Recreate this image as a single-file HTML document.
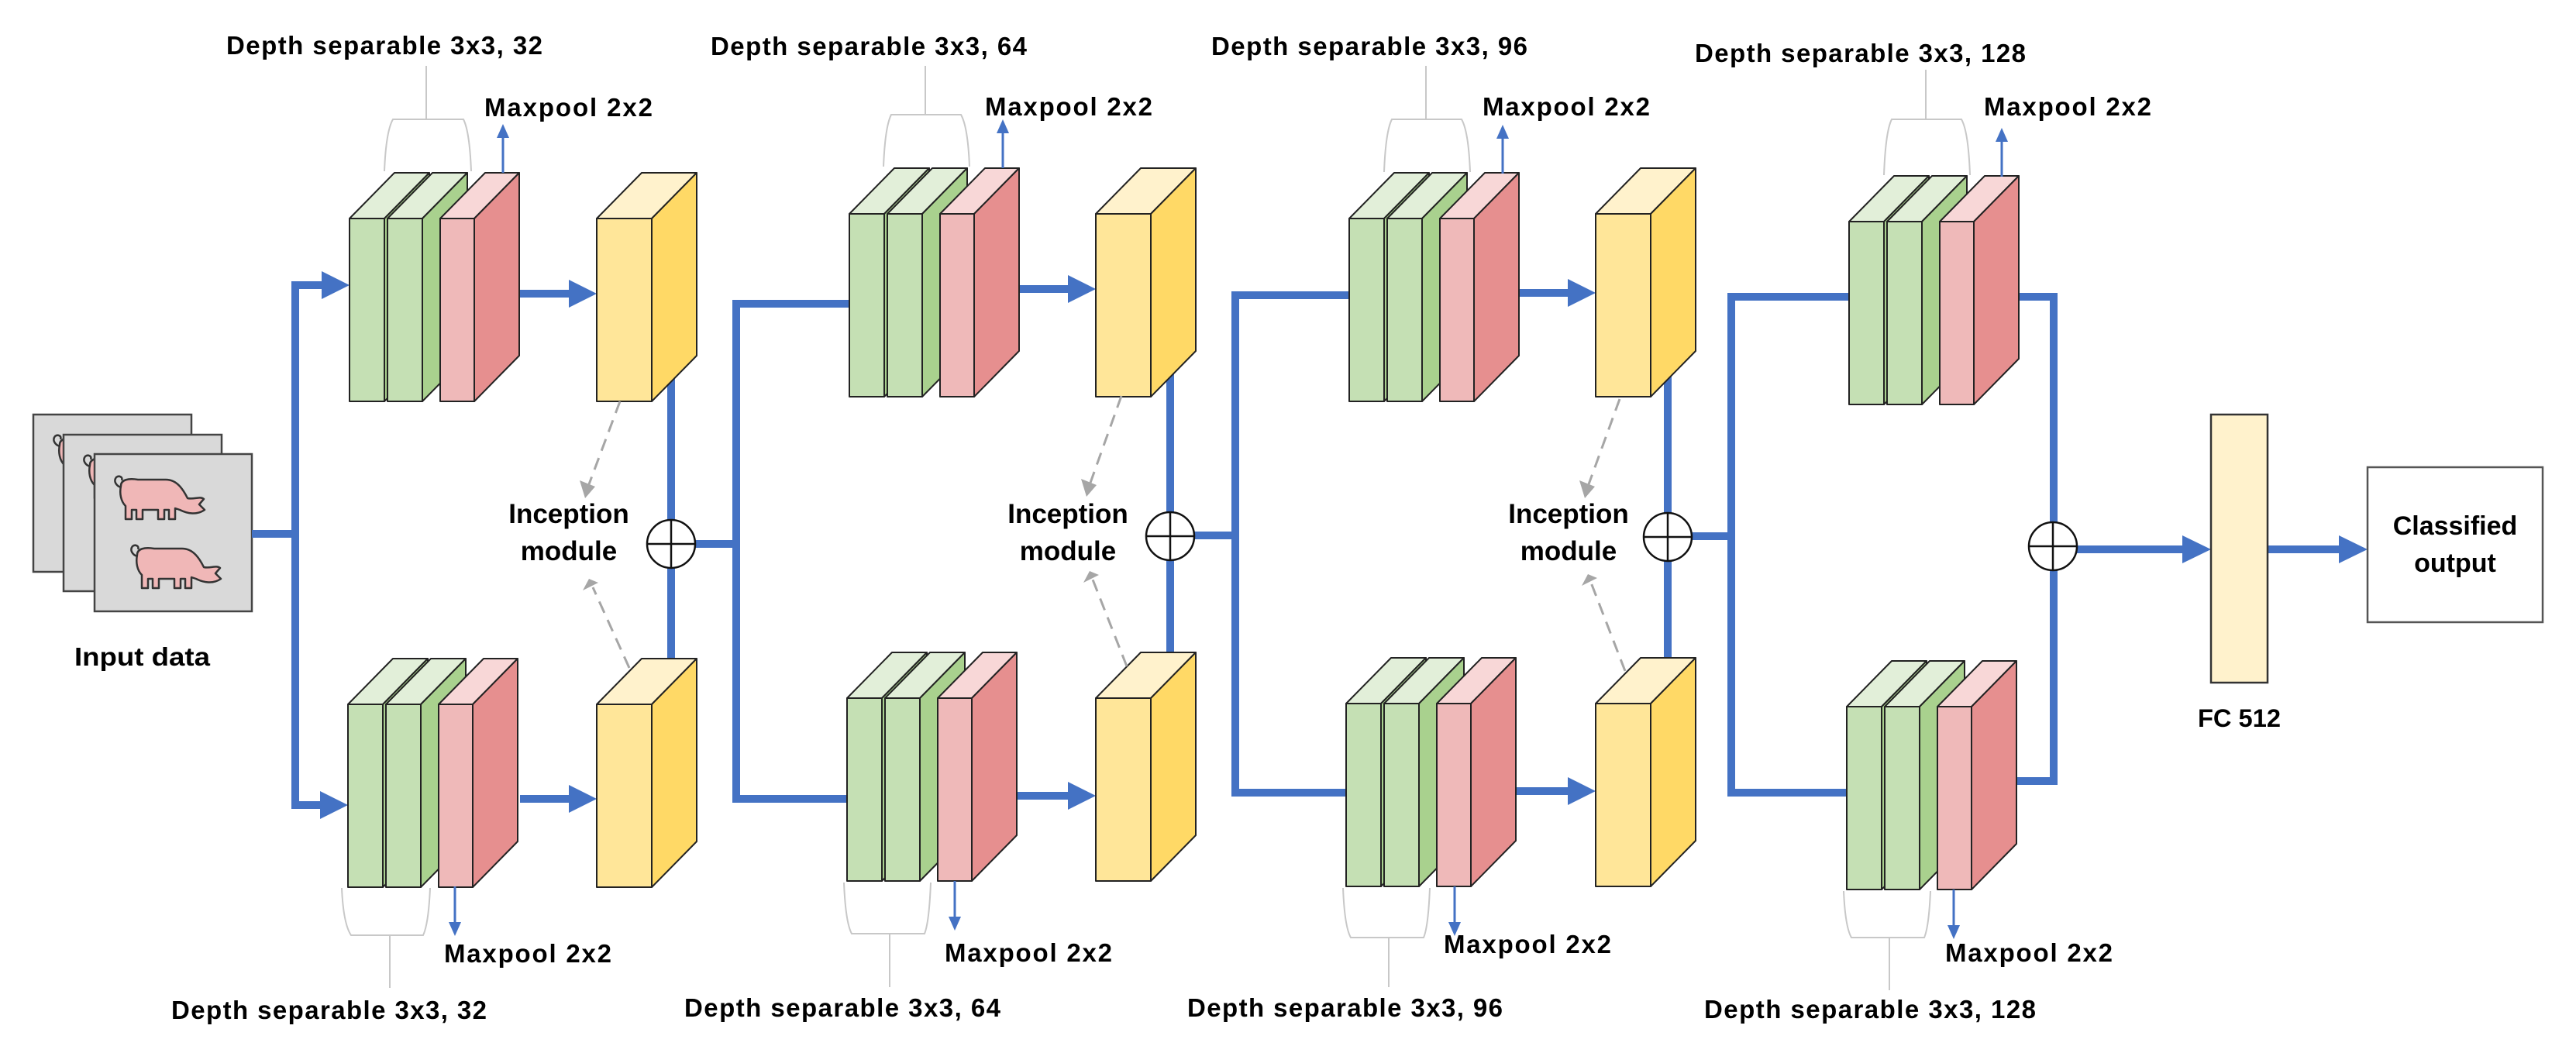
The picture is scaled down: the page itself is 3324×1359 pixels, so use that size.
<!DOCTYPE html>
<html><head><meta charset="utf-8"><style>
html,body{margin:0;padding:0;background:#fff}
svg{display:block}
text{font-family:"Liberation Sans",sans-serif;font-weight:bold;fill:#000}
</style></head><body>
<svg width="3324" height="1359" viewBox="0 0 3324 1359" xmlns="http://www.w3.org/2000/svg">
<defs>
<g id="stack" stroke="#222" stroke-width="2" stroke-linejoin="round">
  <polygon points="0,0 58,-59 103,-59 45,0" fill="#e2efd9"/>
  <polygon points="45,0 103,-59 103,177 45,236" fill="#a9d18e"/>
  <rect x="0" y="0" width="45" height="236" fill="#c5e0b4"/>
  <polygon points="49,0 107,-59 152,-59 94,0" fill="#e2efd9"/>
  <polygon points="94,0 152,-59 152,177 94,236" fill="#a9d18e"/>
  <rect x="49" y="0" width="45" height="236" fill="#c5e0b4"/>
  <polygon points="117,0 175,-59 219,-59 161,0" fill="#f8d7d7"/>
  <polygon points="161,0 219,-59 219,177 161,236" fill="#e68f8f"/>
  <rect x="117" y="0" width="44" height="236" fill="#efb9b9"/>
</g>
<g id="yel" stroke="#222" stroke-width="2" stroke-linejoin="round">
  <polygon points="0,0 58,-59 129,-59 71,0" fill="#fff2cc"/>
  <polygon points="71,0 129,-59 129,177 71,236" fill="#ffd966"/>
  <rect x="0" y="0" width="71" height="236" fill="#ffe699"/>
</g>
<g id="plus">
  <circle cx="0" cy="0" r="31" fill="#fff" stroke="#111" stroke-width="2.5"/>
  <line x1="-31" y1="0" x2="31" y2="0" stroke="#111" stroke-width="2.5"/>
  <line x1="0" y1="-31" x2="0" y2="31" stroke="#111" stroke-width="2.5"/>
</g>
<g id="pig">
  <path d="M14,16 C8,14 4,8 8,3 C12,0 17,3 15,7" fill="none" stroke="#333" stroke-width="2.5"/>
  <path d="M14,14 C14,6 24,4 36,6 L72,6 C86,6 94,18 100,30 C108,32 116,27 121,31 L115,38 L122,45 C112,52 100,50 90,45 L84,43 L84,57 L76,57 L76,45 L70,45 L70,57 L62,57 L62,45 L42,45 L42,57 L34,57 L34,45 L28,45 L28,57 L20,57 L20,40 C14,34 12,24 14,14 Z" fill="#f0b7b7" stroke="#333" stroke-width="2.5" stroke-linejoin="round"/>
</g>
</defs>

<rect x="43" y="535" width="204" height="203" fill="#d9d9d9" stroke="#444" stroke-width="2.5"/>
<use href="#pig" x="63" y="560"/>
<rect x="82" y="561" width="204" height="202" fill="#d9d9d9" stroke="#444" stroke-width="2.5"/>
<use href="#pig" x="102" y="586"/>
<rect x="122" y="586" width="203" height="203" fill="#d9d9d9" stroke="#444" stroke-width="2.5"/>
<use href="#pig" x="142" y="613"/>
<use href="#pig" x="163" y="702"/>
<text x="96" y="859" font-size="33" textLength="175" lengthAdjust="spacingAndGlyphs">Input data</text>

<g stroke="#4472c4" stroke-width="10" fill="none" stroke-linejoin="miter">
  <path d="M325,689 H381"/>
  <path d="M421,368 H381 V1039 H421"/>
  <path d="M671,379 H740"/><path d="M671,1031 H740"/>
  <path d="M866,470 V880"/>
  <path d="M897,702 H950"/>
  <path d="M1096,392 H950 V1031 H1093"/>
  <path d="M1315,373 H1384"/><path d="M1312,1027 H1384"/>
  <path d="M1510,465 V872"/>
  <path d="M1541,691 H1594"/>
  <path d="M1741,381 H1594 V1023 H1737"/>
  <path d="M1960,378 H2029"/><path d="M1956,1021 H2029"/>
  <path d="M2152,465 V879"/>
  <path d="M2183,692 H2234"/>
  <path d="M2386,383 H2234 V1023 H2383"/>
  <path d="M2604,383 H2650 V1008 H2602"/>
  <path d="M2680,709 H2822"/>
  <path d="M2926,709 H3020"/>
</g>
<g fill="#4472c4">
  <polygon points="415,350 451,368 415,386"/>
  <polygon points="413,1021 449,1039 413,1057"/>
  <polygon points="734,361 770,379 734,397"/>
  <polygon points="734,1013 770,1031 734,1049"/>
  <polygon points="1378,355 1414,373 1378,391"/>
  <polygon points="1378,1009 1414,1027 1378,1045"/>
  <polygon points="2023,360 2059,378 2023,396"/>
  <polygon points="2023,1003 2059,1021 2023,1039"/>
  <polygon points="2816,691 2853,709 2816,727"/>
  <polygon points="3018,691 3055,709 3018,727"/>
</g>

<use href="#stack" x="451" y="282"/><use href="#yel" x="770" y="282"/>
<use href="#stack" x="449" y="909"/><use href="#yel" x="770" y="909"/>
<use href="#stack" x="1096" y="276"/><use href="#yel" x="1414" y="276"/>
<use href="#stack" x="1093" y="901"/><use href="#yel" x="1414" y="901"/>
<use href="#stack" x="1741" y="282"/><use href="#yel" x="2059" y="276"/>
<use href="#stack" x="1737" y="908"/><use href="#yel" x="2059" y="908"/>
<use href="#stack" x="2386" y="286"/>
<use href="#stack" x="2383" y="912"/>

<use href="#plus" x="866" y="702"/>
<use href="#plus" x="1510" y="692"/>
<use href="#plus" x="2152" y="693"/>
<use href="#plus" x="2649" y="705"/>

<rect x="2853" y="535" width="73" height="346" fill="#fff2cc" stroke="#333" stroke-width="2.5"/>
<text x="2836" y="938" font-size="32" textLength="107" lengthAdjust="spacingAndGlyphs">FC 512</text>
<rect x="3055" y="603" width="226" height="200" fill="#fff" stroke="#555" stroke-width="2.5"/>
<text x="3168" y="690" font-size="34" text-anchor="middle">Classified</text>
<text x="3168" y="738" font-size="34" text-anchor="middle">output</text>

<g stroke="#4472c4" stroke-width="3">
  <line x1="649" y1="223" x2="649" y2="172"/><line x1="587" y1="1144" x2="587" y2="1194"/>
  <line x1="1294" y1="217" x2="1294" y2="166"/><line x1="1232" y1="1137" x2="1232" y2="1187"/>
  <line x1="1939" y1="224" x2="1939" y2="173"/><line x1="1877" y1="1144" x2="1877" y2="1194"/>
  <line x1="2583" y1="228" x2="2583" y2="177"/><line x1="2521" y1="1148" x2="2521" y2="1198"/>
</g>
<g fill="#4472c4">
  <polygon points="641,178 649,160 657,178"/><polygon points="579,1190 587,1208 595,1190"/>
  <polygon points="1286,172 1294,154 1302,172"/><polygon points="1224,1183 1232,1201 1240,1183"/>
  <polygon points="1931,179 1939,161 1947,179"/><polygon points="1869,1190 1877,1208 1885,1190"/>
  <polygon points="2575,183 2583,165 2591,183"/><polygon points="2513,1194 2521,1212 2529,1194"/>
</g>

<g stroke="#c8c8c8" stroke-width="2" fill="none">
  <path d="M496,221 Q498,170 507,154 H598 Q606,170 608,221 M550,154 V85"/>
  <path d="M1140,215 Q1142,164 1150,148 H1240 Q1249,164 1251,215 M1194,148 V85"/>
  <path d="M1786,222 Q1788,170 1796,154 H1886 Q1895,170 1897,222 M1840,154 V85"/>
  <path d="M2431,226 Q2433,170 2441,154 H2531 Q2540,170 2542,226 M2485,154 V90"/>
  <path d="M441,1146 Q443,1192 453,1207 H546 Q553,1192 555,1146 M503,1207 V1275"/>
  <path d="M1089,1139 Q1091,1190 1099,1205 H1193 Q1199,1190 1201,1139 M1148,1205 V1274"/>
  <path d="M1733,1146 Q1735,1196 1743,1210 H1837 Q1843,1196 1845,1146 M1792,1210 V1274"/>
  <path d="M2379,1150 Q2381,1196 2389,1210 H2483 Q2489,1196 2491,1150 M2438,1210 V1278"/>
</g>

<g stroke="#a6a6a6" stroke-width="3" stroke-dasharray="16,10" fill="none">
  <line x1="800" y1="518" x2="760" y2="625"/><line x1="812" y1="862" x2="765" y2="758"/>
  <line x1="1447" y1="511" x2="1407" y2="623"/><line x1="1454" y1="860" x2="1410" y2="748"/>
  <line x1="2090" y1="515" x2="2050" y2="625"/><line x1="2097" y1="866" x2="2053" y2="752"/>
</g>
<g fill="#a6a6a6">
  <polygon points="748,620 768,628 755,643"/><polygon points="752,762 772,752 760,747"/>
  <polygon points="1395,618 1415,626 1402,641"/><polygon points="1398,752 1418,742 1406,737"/>
  <polygon points="2038,620 2058,628 2045,643"/><polygon points="2041,756 2061,746 2049,741"/>
</g>
<g font-size="35" text-anchor="middle">
  <text x="734" y="675">Inception</text><text x="734" y="723">module</text>
  <text x="1378" y="675">Inception</text><text x="1378" y="723">module</text>
  <text x="2024" y="675">Inception</text><text x="2024" y="723">module</text>
</g>

<g font-size="33" lengthAdjust="spacingAndGlyphs">
  <text x="292" y="70" textLength="408">Depth separable 3x3, 32</text>
  <text x="917" y="71" textLength="408">Depth separable 3x3, 64</text>
  <text x="1563" y="71" textLength="408">Depth separable 3x3, 96</text>
  <text x="2187" y="80" textLength="427">Depth separable 3x3, 128</text>
  <text x="625" y="150" textLength="217">Maxpool 2x2</text>
  <text x="1271" y="149" textLength="216">Maxpool 2x2</text>
  <text x="1913" y="149" textLength="216">Maxpool 2x2</text>
  <text x="2560" y="149" textLength="216">Maxpool 2x2</text>
  <text x="573" y="1242" textLength="216">Maxpool 2x2</text>
  <text x="1219" y="1241" textLength="216">Maxpool 2x2</text>
  <text x="1863" y="1230" textLength="216">Maxpool 2x2</text>
  <text x="2510" y="1241" textLength="216">Maxpool 2x2</text>
  <text x="221" y="1315" textLength="407">Depth separable 3x3, 32</text>
  <text x="883" y="1312" textLength="408">Depth separable 3x3, 64</text>
  <text x="1532" y="1312" textLength="407">Depth separable 3x3, 96</text>
  <text x="2199" y="1314" textLength="428">Depth separable 3x3, 128</text>
</g>
</svg>
</body></html>
